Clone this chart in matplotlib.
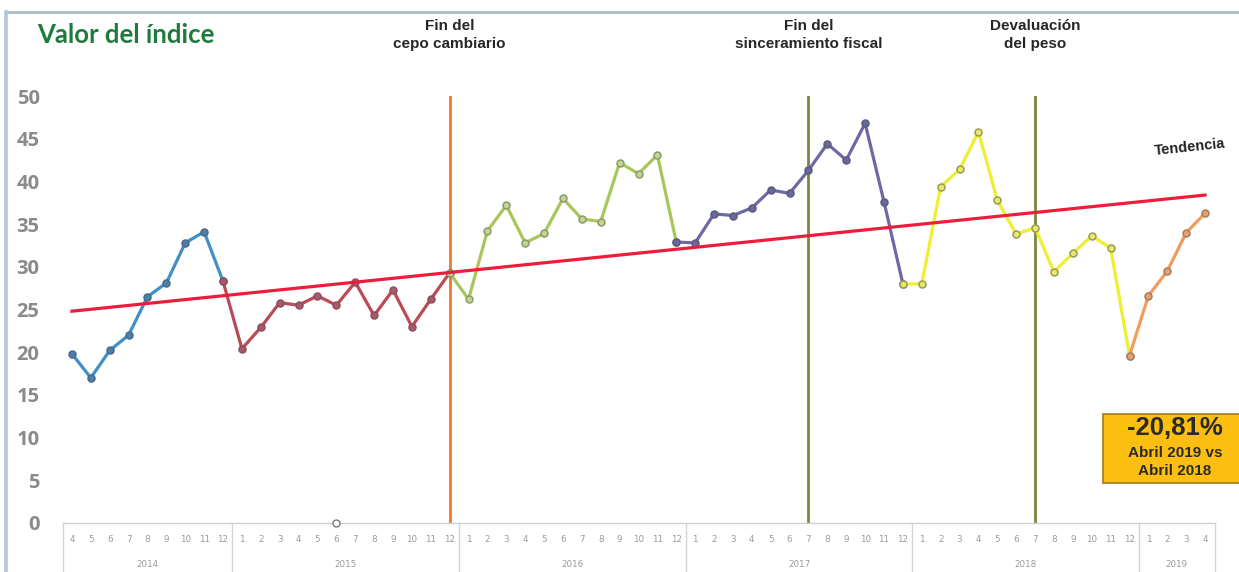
import numpy as np
import matplotlib
matplotlib.use("Agg")
import matplotlib.pyplot as plt
from matplotlib.transforms import blended_transform_factory
from matplotlib.patches import Rectangle
from matplotlib.lines import Line2D

# Monthly index values, April 2014 - April 2019
years = ["2014", "2015", "2016", "2017", "2018", "2019"]
months_2014 = [4, 5, 6, 7, 8, 9, 10, 11, 12]
months_full = list(range(1, 13))
months_2019 = [1, 2, 3, 4]

v2014 = [19.8, 17.0, 20.2, 22.0, 26.5, 28.1, 32.8, 34.1, 28.3]
v2015 = [20.4, 22.9, 25.8, 25.5, 26.6, 25.5, 28.2, 24.3, 27.3, 23.0, 26.2, 29.3]
v2016 = [26.2, 34.2, 37.2, 32.8, 33.9, 38.0, 35.6, 35.3, 42.2, 40.9, 43.1, 32.9]
v2017 = [32.8, 36.2, 36.0, 36.9, 39.0, 38.6, 41.3, 44.4, 42.5, 46.8, 37.6, 28.0]
v2018 = [28.0, 39.4, 41.4, 45.8, 37.8, 33.8, 34.6, 29.4, 31.6, 33.6, 32.2, 19.6]
v2019 = [26.6, 29.5, 34.0, 36.27]

# Trend line values at the first and last month
trend_values = [24.8, 38.4]

year_months = [months_2014, months_full, months_full, months_full, months_full, months_2019]
year_values = [v2014, v2015, v2016, v2017, v2018, v2019]

line_colors = ["#3f8fc8", "#bb4a57", "#a8c65a", "#6e69a6", "#eeee33", "#f39a5c"]
marker_faces = ["#4f7fa8", "#a85a66", "#c4d48c", "#6a6a98", "#e8e870", "#e8a070"]
marker_edges = ["#4a6a88", "#8a5060", "#8a9a70", "#5a5a80", "#9a9a50", "#a08060"]

# Events marked with vertical lines: (year, month, label, colour)
events = [("2015", 12, "Fin del\ncepo cambiario", "#ec7a2c"),
          ("2017", 7, "Fin del\nsinceramiento fiscal", "#77893c"),
          ("2018", 7, "Devaluación\ndel peso", "#77893c")]

# Stray category-axis marker (2015, month 6)
zero_mark = ("2015", 6, 0.0)

change_label = "-20,81%"
change_note = ["Abril 2019 vs", "Abril 2018"]

# ---- build flat category index ----
labels, values, year_of = [], [], []
for y, ms, vs in zip(years, year_months, year_values):
    for m, v in zip(ms, vs):
        labels.append(str(m))
        values.append(v)
        year_of.append(y)
x_all = np.arange(len(values))
values = np.array(values)


def idx(year, month):
    for i, (yy, mm) in enumerate(zip(year_of, labels)):
        if yy == year and mm == str(month):
            return i
    raise ValueError


W, H = 1239, 572
fig = plt.figure(figsize=(W / 100, H / 100), dpi=100)
fig.patch.set_facecolor("white")

ax_left, ax_right = 62.5, 1214.5
ax_bottom, ax_top = 523, 96
ax = fig.add_axes([ax_left / W, (H - ax_bottom) / H,
                   (ax_right - ax_left) / W, (ax_bottom - ax_top) / H])
ax.set_xlim(-0.5, len(values) - 0.5)
ax.set_ylim(0, 50)
ax.set_facecolor("none")

# Year series; each one starts from the previous December
start = 0
for k, vs in enumerate(year_values):
    n = len(vs)
    s = max(start - 1, 0)
    xs = x_all[s:start + n]
    ys = values[s:start + n]
    ax.plot(xs, ys, color=line_colors[k], lw=2.3, zorder=3,
            solid_joinstyle="round",
            marker="o", markersize=5, markerfacecolor=marker_faces[k],
            markeredgecolor=marker_edges[k], markeredgewidth=1.1,
            clip_on=False)
    start += n

# Trend line
tx = [x_all[0], x_all[-1]]
ax.plot(tx, trend_values, color="#ee1b3a", lw=2.3, zorder=4)
ax.text(x_all[-1] - 0.8, trend_values[-1] + 5.6, "Tendencia",
        fontsize=10.5, fontweight="bold", family="Liberation Sans",
        color="#222222", rotation=6, ha="center", va="center")

# Event lines and their captions
for yr, mo, txt, col in events:
    xi = idx(yr, mo)
    ax.plot([xi, xi], [0, 50], color=col, lw=2.0, zorder=2)
    fig.text((ax_left + (xi + 0.5) * (ax_right - ax_left) / len(values)) / W,
             (H - 35) / H, txt, ha="center", va="center",
             fontsize=11, fontweight="bold", family="Liberation Sans",
             color="#262626", linespacing=1.45)

# Stray marker on the category axis
ax.plot(idx(zero_mark[0], zero_mark[1]), zero_mark[2], "o", markersize=5,
        markerfacecolor="white", markeredgecolor="#7a7a7a",
        markeredgewidth=1.0, clip_on=False, zorder=5)

# Y axis
ax.set_yticks(np.arange(0, 51, 5))
ax.tick_params(axis="y", length=0, pad=16.5, labelsize=14.5, labelcolor="#8a8a8a")
for t in ax.get_yticklabels():
    t.set_family("Open Sans")
    t.set_fontweight("bold")

# Two-level category axis
ax.set_xticks(x_all)
ax.set_xticklabels(labels)
ax.tick_params(axis="x", length=0, pad=9, labelsize=6.3, labelcolor="#9a9a9a")
for sp in ["top", "right", "left"]:
    ax.spines[sp].set_visible(False)
ax.spines["bottom"].set_color("#cfcfcf")
ax.spines["bottom"].set_linestyle((0, (2, 1)))
ax.spines["bottom"].set_linewidth(1.0)

trans = blended_transform_factory(ax.transData, ax.transAxes)
depth = -(H - ax_bottom) / (ax_bottom - ax_top)
bounds = [-0.5]
start = 0
for y, vs in zip(years, year_values):
    end = start + len(vs)
    bounds.append(end - 0.5)
    ax.text((start + end - 1) / 2, depth * 0.85, y, transform=trans,
            ha="center", va="center", fontsize=6.3, color="#9a9a9a")
    start = end
for b in bounds:
    ax.add_line(Line2D([b, b], [0, depth], transform=trans, color="#d4d4d4",
                       lw=1.0, clip_on=False))

# Title
fig.text(37 / W, (H - 35) / H, "Valor del índice", fontsize=18.5,
         fontweight="bold", family="Lato", color="#1e7b3c",
         ha="left", va="center")

# Year-on-year change box
fig.patches.append(Rectangle((1103 / W, (H - 483) / H), 140 / W, 69 / H,
                             transform=fig.transFigure, facecolor="#fdbf0f",
                             edgecolor="#a07a20", lw=1.2))
fig.text(1175 / W, (H - 428) / H, change_label, fontsize=18.5,
         fontweight="bold", family="Liberation Sans", color="#2a2a2a",
         ha="center", va="center")
fig.text(1175 / W, (H - 453) / H, change_note[0], fontsize=11,
         fontweight="bold", family="Liberation Sans", color="#2a2a2a",
         ha="center", va="center")
fig.text(1175 / W, (H - 471) / H, change_note[1], fontsize=11,
         fontweight="bold", family="Liberation Sans", color="#2a2a2a",
         ha="center", va="center")

# Outer frame
fig.add_artist(Line2D([6 / W, 1], [(H - 12) / H, (H - 12) / H],
                      transform=fig.transFigure, color="#b4c0cc", lw=2.2))
fig.add_artist(Line2D([6 / W, 6 / W], [0, (H - 12) / H],
                      transform=fig.transFigure, color="#b4c4d4", lw=2.6))

fig.savefig("out.png", dpi=100, facecolor="white")
